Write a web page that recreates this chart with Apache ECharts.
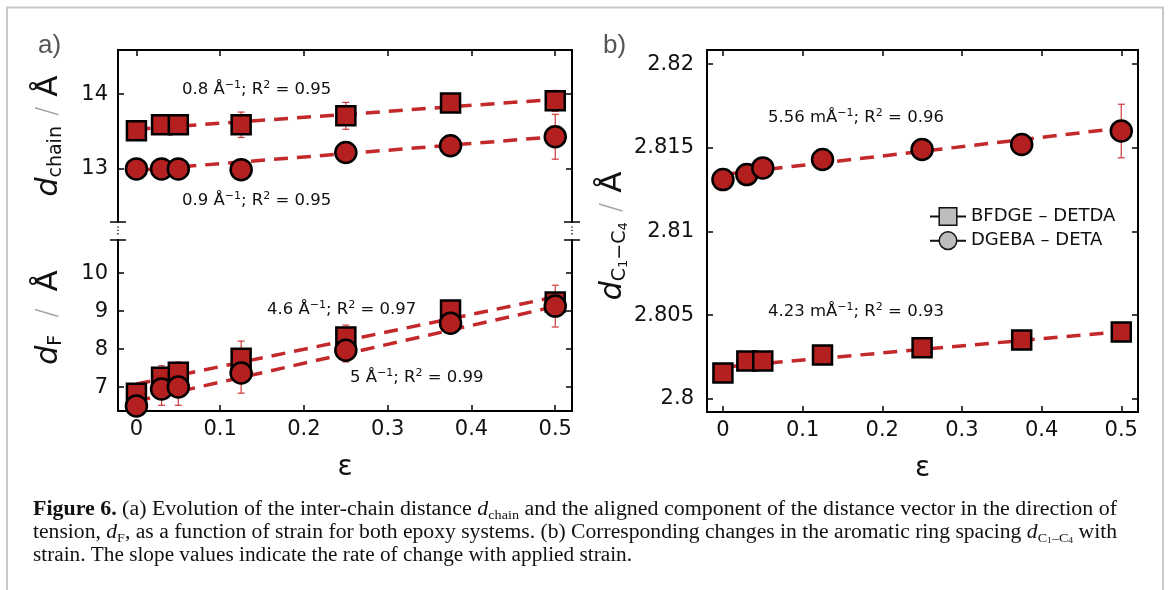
<!DOCTYPE html>
<html><head><meta charset="utf-8">
<script src="https://cdn.jsdelivr.net/npm/echarts@6/dist/echarts.min.js"></script>
<style>html,body{margin:0;padding:0;background:#fff;}#c{width:1170px;height:590px;}</style>
</head><body><div id="c"></div>
<script>
// ---------- data ----------
const strain = [0, 0.03, 0.05, 0.125, 0.25, 0.375, 0.5];
const xTicks = [0, 0.1, 0.2, 0.3, 0.4, 0.5];
const chainTicks = [13, 14];
const dfTicks = [7, 8, 9, 10];
const ccTicks = [2.8, 2.805, 2.81, 2.815, 2.82];

const chainBFDGE    = [13.51, 13.59, 13.59, 13.59, 13.71, 13.88, 13.91];
const chainBFDGEErr = [0.04, 0.04, 0.04, 0.17, 0.18, 0.05, 0.14];
const chainDGEBA    = [13.0, 13.0, 13.0, 12.99, 13.22, 13.31, 13.43];
const chainDGEBAErr = [0.04, 0.04, 0.04, 0.05, 0.08, 0.05, 0.30];

const dfBFDGE    = [6.84, 7.26, 7.39, 7.76, 8.32, 9.03, 9.24];
const dfBFDGEErr = [0.2, 0.3, 0.27, 0.45, 0.31, 0.15, 0.2];
const dfDGEBA    = [6.5, 6.95, 7.0, 7.37, 7.97, 8.68, 9.13];
const dfDGEBAErr = [0.2, 0.43, 0.48, 0.53, 0.31, 0.15, 0.55];

const ccBFDGE    = [2.80155, 2.80227, 2.80227, 2.80263, 2.80305, 2.80352, 2.8040];
const ccBFDGEErr = [0.0002, 0.0003, 0.0002, 0.0002, 0.0002, 0.0002, 0.0002];
const ccDGEBA    = [2.8131, 2.8134, 2.8138, 2.8143, 2.8149, 2.8152, 2.8160];
const ccDGEBAErr = [0.0002, 0.0002, 0.0002, 0.0002, 0.0002, 0.0002, 0.0016];

const fitChainBFDGE = [[0, 13.53], [0.5, 13.93]];
const fitChainDGEBA = [[0, 12.98], [0.5, 13.43]];
const fitDfBFDGE    = [[0, 7.08], [0.5, 9.37]];
const fitDfDGEBA    = [[0, 6.63], [0.5, 9.12]];
const fitCcBFDGE    = [[0, 2.8019], [0.5, 2.80402]];
const fitCcDGEBA    = [[0, 2.8134], [0.5, 2.81618]];

const seriesNames = ['BFDGE – DETDA', 'DGEBA – DETA'];
const slopeTexts = {
  chainBF: ['0.8 Å', '0.95'], chainDG: ['0.9 Å', '0.95'],
  dfBF: ['4.6 Å', '0.97'], dfDG: ['5 Å', '0.99'],
  ccDG: ['5.56 mÅ', '0.96'], ccBF: ['4.23 mÅ', '0.93']
};

// ---------- styles ----------
const FILL = '#b3201f', LINE = '#c3282a', ERR = '#cc3a3a';
const FONT = 'DejaVu Sans';
const G = [
  {left: 118, top: 50, width: 454, height: 172},
  {left: 118, top: 240, width: 454, height: 171},
  {left: 707, top: 50, width: 431, height: 362}
];
const XR = {a: [-0.022, 0.52], b: [-0.02, 0.521]};
const YR = {chain: [12.29, 14.59], df: [6.37, 10.87], cc: [2.79922, 2.82084]};

const pairs = (xs, ys) => xs.map((x, i) => [x, ys[i]]);
const triples = (xs, ys, es) => xs.map((x, i) => [x, ys[i], es[i]]);

function xAxis(grid, pos, labels, range, name) {
  return {
    type: 'value', gridIndex: grid, position: pos, min: range[0], max: range[1],
    axisLine: {show: true, onZero: false, lineStyle: {color: '#000', width: 2}},
    axisTick: {show: true, inside: true, length: 6, lineStyle: {color: '#000', width: 1.5}, customValues: xTicks},
    axisLabel: {show: labels, customValues: xTicks, margin: 8, fontSize: 21, fontFamily: FONT, color: '#111'},
    splitLine: {show: false},
    name: name || '', nameLocation: 'middle', nameGap: 43,
    nameTextStyle: {fontSize: 28, fontFamily: FONT, color: '#111'}
  };
}
const nameRich = {
  d: {fontSize: 30, fontStyle: 'italic', fontFamily: FONT, color: '#111', lineHeight: 34},
  sub: {fontSize: 19, fontFamily: FONT, color: '#111', verticalAlign: 'bottom', lineHeight: 22},
  ss: {fontSize: 13, fontFamily: FONT, color: '#111', verticalAlign: 'bottom', lineHeight: 12},
  sl: {fontSize: 28, fontFamily: FONT, color: '#a0a0a0', fontWeight: 'lighter', lineHeight: 34},
  A: {fontSize: 31, fontFamily: FONT, color: '#111', lineHeight: 34},
  sp: {width: 10, fontSize: 10},
  spw: {width: 17, fontSize: 10},
  pad: {width: 16, fontSize: 10},
  pad2: {width: 10, fontSize: 10}
};
function yAxis(grid, pos, labels, range, ticks, name, gap, margin) {
  return {
    type: 'value', gridIndex: grid, position: pos, min: range[0], max: range[1],
    axisLine: {show: true, onZero: false, lineStyle: {color: '#000', width: 2}},
    axisTick: {show: true, inside: true, length: 6, lineStyle: {color: '#000', width: 1.5}, customValues: ticks},
    axisLabel: {show: labels, customValues: ticks, margin: margin || 10, fontSize: 21, fontFamily: FONT, color: '#111'},
    splitLine: {show: false},
    name: name || '', nameLocation: 'middle', nameRotate: 90, nameGap: gap || 50,
    nameTextStyle: {rich: nameRich, fontFamily: FONT, color: '#111'}
  };
}

function markerSeries(name, symbol, size, xi, yi, data) {
  return {
    type: 'line', name, xAxisIndex: xi, yAxisIndex: yi, data,
    symbol, symbolSize: size, showSymbol: true, silent: true,
    lineStyle: {opacity: 0, width: 0},
    itemStyle: {color: FILL, borderColor: '#000', borderWidth: 2.5, opacity: 1},
    emphasis: {disabled: true}, z: 5, animation: false
  };
}
function fitSeries(xi, yi, data) {
  return {
    type: 'line', xAxisIndex: xi, yAxisIndex: yi, data, symbol: 'none', silent: true,
    lineStyle: {color: LINE, width: 3.5, type: [14, 9]}, z: 2, animation: false
  };
}
function renderErr(params, api) {
  const x = api.value(0), y = api.value(1), e = api.value(2);
  const p1 = api.coord([x, y + e]), p2 = api.coord([x, y - e]);
  const w = 3.5, st = {stroke: ERR, lineWidth: 1.2};
  return {type: 'group', children: [
    {type: 'line', shape: {x1: p1[0], y1: p1[1], x2: p2[0], y2: p2[1]}, style: st},
    {type: 'line', shape: {x1: p1[0] - w, y1: p1[1], x2: p1[0] + w, y2: p1[1]}, style: st},
    {type: 'line', shape: {x1: p2[0] - w, y1: p2[1], x2: p2[0] + w, y2: p2[1]}, style: st}
  ]};
}
function errSeries(xi, yi, data) {
  return {type: 'custom', xAxisIndex: xi, yAxisIndex: yi, data, renderItem: renderErr,
    encode: {x: 0, y: 1}, clip: false, silent: true, z: 3, animation: false};
}

// ---------- annotation text ----------
const annRich = {
  sup: {fontSize: 11, fontFamily: FONT, fill: '#111', verticalAlign: 'top', lineHeight: 11}
};
function ann(x, y, t) {
  return {type: 'text', x, y, silent: true, style: {
    text: t[0] + '{sup|−1}; R{sup|2} = ' + t[1], rich: annRich,
    fontSize: 16.5, fontFamily: FONT, fill: '#111', lineHeight: 20,
    align: 'left', verticalAlign: 'middle', textAlign: 'left', textVerticalAlign: 'middle'
  }};
}

// ---------- caption ----------
const SERIF = 'Liberation Serif';
const CAP_FS = 20;
const capRich = {
  b: {fontWeight: 'bold', fontSize: CAP_FS, fontFamily: SERIF, fill: '#111', lineHeight: 24},
  i: {fontStyle: 'italic', fontSize: CAP_FS, fontFamily: SERIF, fill: '#111', lineHeight: 24},
  sub: {fontSize: 13, fontFamily: SERIF, fill: '#111', verticalAlign: 'bottom', lineHeight: 16},
  ss: {fontSize: 9, fontFamily: SERIF, fill: '#111', verticalAlign: 'bottom', lineHeight: 9}
};
const capLines = [
  [['b', 'Figure 6.'], ['', ' (a) Evolution of the inter-chain distance '], ['i', 'd'], ['sub', 'chain'], ['', ' and the aligned component of the distance vector in the direction of']],
  [['', 'tension, '], ['i', 'd'], ['sub', 'F'], ['', ', as a function of strain for both epoxy systems. (b) Corresponding changes in the aromatic ring spacing '], ['i', 'd'], ['sub', 'C'], ['ss', '1'], ['sub', '–C'], ['ss', '4'], ['', ' with']],
  [['', 'strain. The slope values indicate the rate of change with applied strain.']]
];
const capWidths = [1084, 1084, 599];
const capY = [510, 533, 556];
function measureLine(line) {
  const ctx = document.createElement('canvas').getContext('2d');
  let w = 0;
  line.forEach(([s, t]) => {
    let f = CAP_FS + 'px "' + SERIF + '"';
    if (s === 'b') f = 'bold ' + f;
    if (s === 'i') f = 'italic ' + f;
    if (s === 'sub') f = '13px "' + SERIF + '"';
    if (s === 'ss') f = '9px "' + SERIF + '"';
    ctx.font = f; w += ctx.measureText(t).width;
  });
  return w;
}
const captionEls = capLines.map((line, k) => ({
  type: 'text', x: 33, y: capY[k], scaleX: capWidths[k] / measureLine(line), silent: true,
  style: {
    text: line.map(([s, t]) => s ? '{' + s + '|' + t + '}' : t).join(''),
    rich: capRich, fontSize: CAP_FS, fontFamily: SERIF, fill: '#111', lineHeight: 24,
    align: 'left', verticalAlign: 'middle', textAlign: 'left', textVerticalAlign: 'middle'
  }
}));

// break marks
function breakMarks(X) {
  const st = {stroke: '#000', lineWidth: 1.5};
  return [
    {type: 'line', silent: true, shape: {x1: X - 8, y1: 222, x2: X + 8, y2: 222}, style: st},
    {type: 'line', silent: true, shape: {x1: X - 8, y1: 240, x2: X + 8, y2: 240}, style: st},
    {type: 'line', silent: true, shape: {x1: X, y1: 226.5, x2: X, y2: 236}, style: {stroke: '#000', lineWidth: 1.3, lineDash: [1.3, 2]}}
  ];
}

const option = {
  animation: false,
  backgroundColor: '#fff',
  grid: G.map(g => Object.assign({outerBoundsMode: 'none', containLabel: false}, g)),
  xAxis: [
    xAxis(0, 'top', false, XR.a),
    xAxis(1, 'bottom', true, XR.a, 'ε'),
    xAxis(2, 'bottom', true, XR.b, 'ε'),
    xAxis(2, 'top', false, XR.b)
  ],
  yAxis: [
    yAxis(0, 'left', true, YR.chain, chainTicks, '{d|d}{sub|chain}{sp| }{sl|/}{sp| }{A|Å}', 52, 10),
    yAxis(0, 'right', false, YR.chain, chainTicks),
    yAxis(1, 'left', true, YR.df, dfTicks, '{pad| }{d|d}{sub|F}{spw| }{sl|/}{spw| }{A|Å}', 52, 10),
    yAxis(1, 'right', false, YR.df, dfTicks),
    yAxis(2, 'left', true, YR.cc, ccTicks, '{d|d}{sub|C}{ss|1}{sub|−C}{ss|4}{sp| }{sl|/}{sp| }{A|Å}{pad2| }', 75, 13),
    yAxis(2, 'right', false, YR.cc, ccTicks)
  ],
  legend: {
    left: 929, top: 207, orient: 'vertical', itemGap: 5, itemWidth: 36, itemHeight: 22, padding: 0,
    selectedMode: false,
    textStyle: {fontSize: 18, fontFamily: FONT, color: '#111'},
    data: [
      {name: seriesNames[0], itemStyle: {color: '#bdbdbd', borderColor: '#111', borderWidth: 1.5}, lineStyle: {color: '#111', width: 2, opacity: 1}},
      {name: seriesNames[1], itemStyle: {color: '#bdbdbd', borderColor: '#111', borderWidth: 1.5}, lineStyle: {color: '#111', width: 2, opacity: 1}}
    ]
  },
  series: [
    fitSeries(0, 0, fitChainBFDGE), fitSeries(0, 0, fitChainDGEBA),
    errSeries(0, 0, triples(strain, chainBFDGE, chainBFDGEErr)),
    errSeries(0, 0, triples(strain, chainDGEBA, chainDGEBAErr)),
    markerSeries(seriesNames[0], 'rect', 19, 0, 0, pairs(strain, chainBFDGE)),
    markerSeries(seriesNames[1], 'circle', 21, 0, 0, pairs(strain, chainDGEBA)),

    fitSeries(1, 2, fitDfBFDGE), fitSeries(1, 2, fitDfDGEBA),
    errSeries(1, 2, triples(strain, dfBFDGE, dfBFDGEErr)),
    errSeries(1, 2, triples(strain, dfDGEBA, dfDGEBAErr)),
    markerSeries(seriesNames[0], 'rect', 19, 1, 2, pairs(strain, dfBFDGE)),
    markerSeries(seriesNames[1], 'circle', 21, 1, 2, pairs(strain, dfDGEBA)),

    fitSeries(2, 4, fitCcBFDGE), fitSeries(2, 4, fitCcDGEBA),
    errSeries(2, 4, triples(strain, ccBFDGE, ccBFDGEErr)),
    errSeries(2, 4, triples(strain, ccDGEBA, ccDGEBAErr)),
    markerSeries(seriesNames[0], 'rect', 19, 2, 4, pairs(strain, ccBFDGE)),
    markerSeries(seriesNames[1], 'circle', 21, 2, 4, pairs(strain, ccDGEBA))
  ],
  graphic: [
    {type: 'polyline', silent: true, shape: {points: [[7, 590], [7, 7.5], [1163, 7.5], [1163, 590]]}, style: {stroke: '#c8c8c8', lineWidth: 2, fill: null}},
    ...breakMarks(118), ...breakMarks(572),
    {type: 'text', x: 38, y: 46, silent: true, style: {text: 'a)', fontSize: 26, fontFamily: 'Liberation Sans', fill: '#555', align: 'left', verticalAlign: 'middle', textAlign: 'left', textVerticalAlign: 'middle'}},
    {type: 'text', x: 603, y: 46, silent: true, style: {text: 'b)', fontSize: 26, fontFamily: 'Liberation Sans', fill: '#555', align: 'left', verticalAlign: 'middle', textAlign: 'left', textVerticalAlign: 'middle'}},
    ann(182, 90, slopeTexts.chainBF), ann(182, 201, slopeTexts.chainDG),
    ann(267, 310, slopeTexts.dfBF), ann(350, 378, slopeTexts.dfDG),
    ann(768, 118, slopeTexts.ccDG), ann(768, 312, slopeTexts.ccBF),
    ...captionEls
  ]
};
const chart = echarts.init(document.getElementById('c'), null, {renderer: 'canvas'});
chart.setOption(option);
</script></body></html>
